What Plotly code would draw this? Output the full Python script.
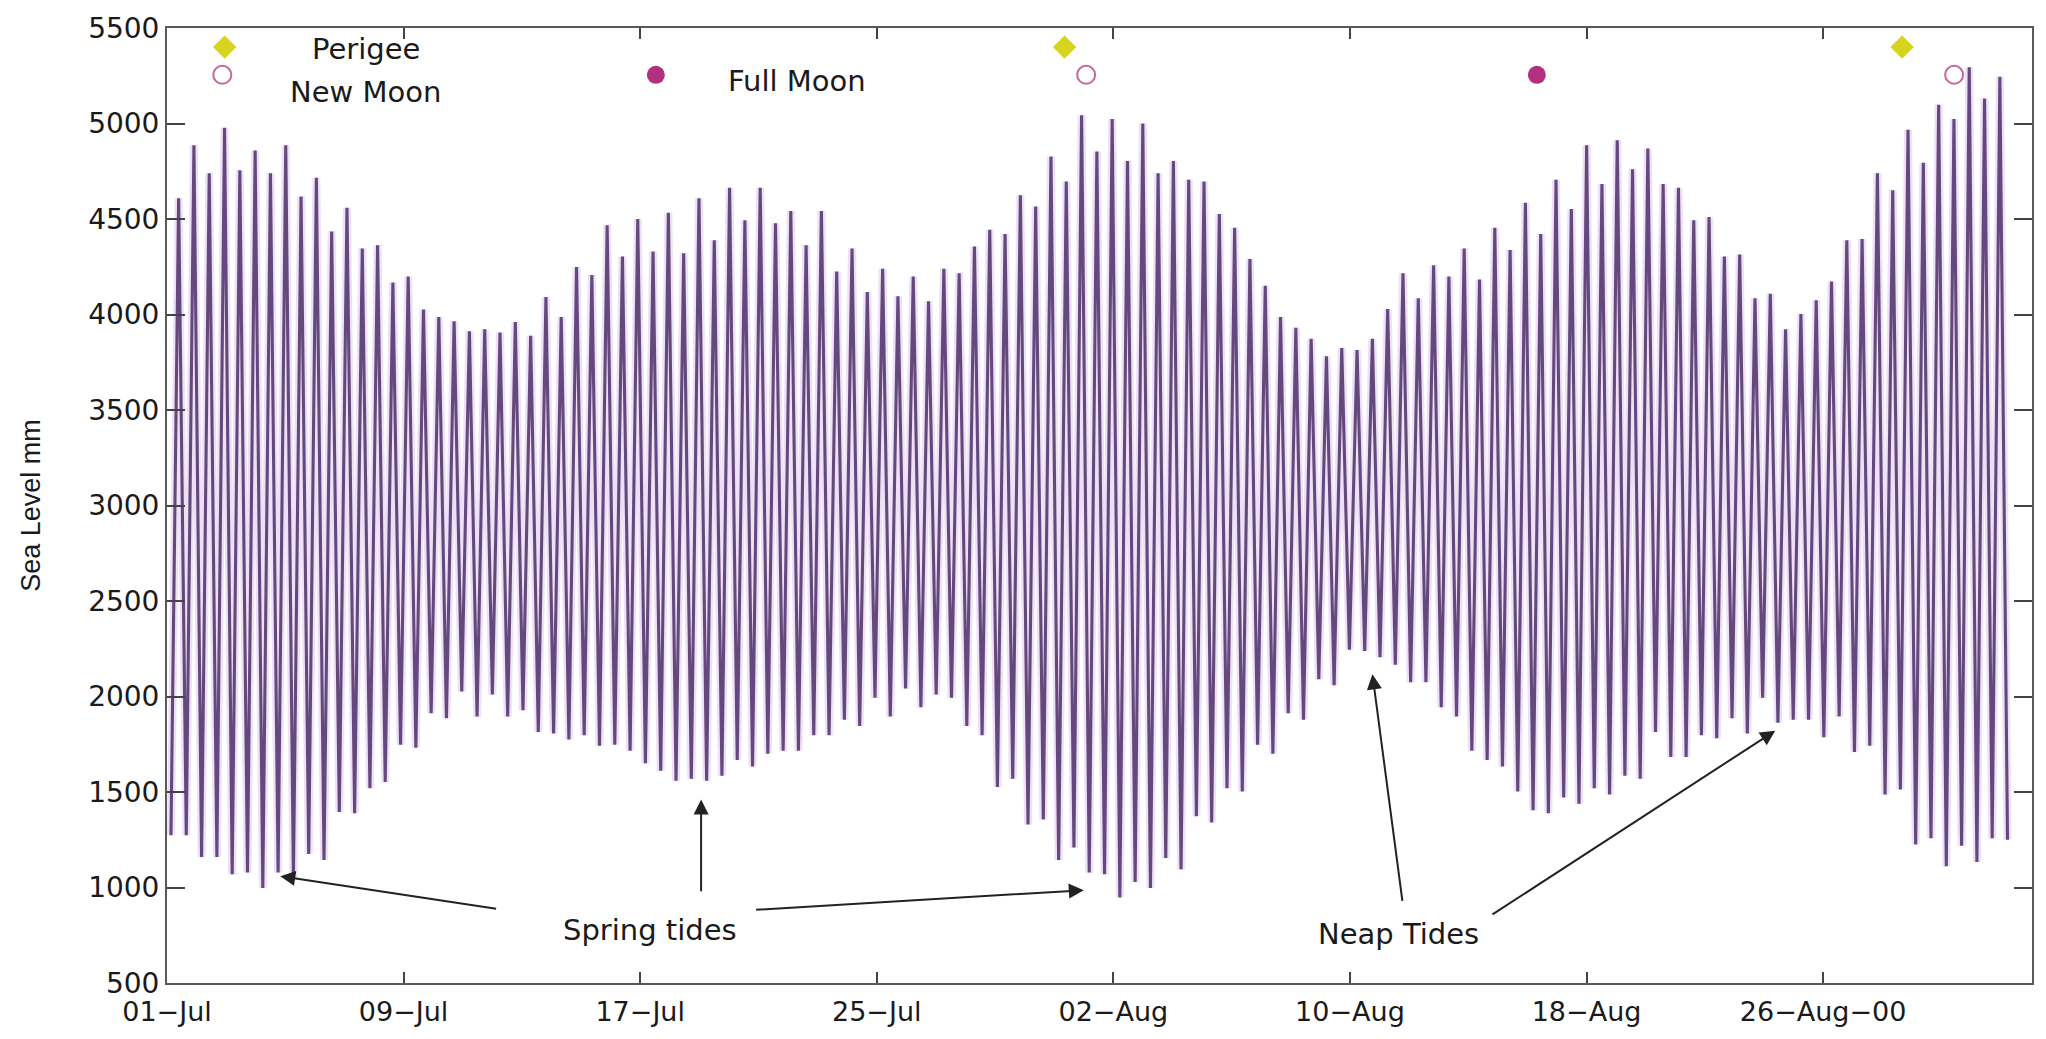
import plotly.graph_objects as go
from datetime import datetime, timedelta

# ---------------- data ----------------
START = datetime(2000, 7, 1)
FIRST_HIGH_DAY = 0.393          # time of first high water (days after 01-Jul)
TIDE_PERIOD_DAYS = 0.5175       # spacing of successive high waters

# successive low waters (each precedes the high water with the same index), mm
low_water = [
    1274, 1274, 1160, 1160, 1069, 1078, 997, 1078, 1050, 1176,
    1144, 1395, 1389, 1520, 1552, 1748, 1732, 1912, 1886, 2026,
    1895, 2010, 1895, 1928, 1814, 1807, 1775, 1797, 1742, 1748,
    1716, 1650, 1611, 1559, 1569, 1559, 1585, 1667, 1634, 1700,
    1716, 1716, 1797, 1797, 1879, 1846, 1993, 1895, 2042, 1944,
    2010, 1993, 1846, 1797, 1526, 1569, 1330, 1356, 1144, 1209,
    1078, 1069, 948, 1029, 997, 1154, 1095, 1373, 1340, 1520,
    1503, 1748, 1700, 1912, 1879, 2091, 2059, 2245, 2239, 2206,
    2167, 2075, 2075, 1944, 1895, 1716, 1667, 1634, 1503, 1405,
    1389, 1471, 1438, 1520, 1487, 1585, 1569, 1814, 1683, 1683,
    1797, 1781, 1886, 1807, 1993, 1863, 1879, 1879, 1787, 1895,
    1709, 1742, 1487, 1513, 1225, 1258, 1111, 1219, 1134, 1258,
]

# successive high waters, mm
high_water = [
    4608, 4886, 4739, 4977, 4755, 4859, 4739, 4886, 4618, 4716,
    4435, 4559, 4346, 4363, 4167, 4199, 4026, 3987, 3964,
    3912, 3922, 3905, 3961, 3889, 4092, 3987, 4248, 4206, 4467,
    4304, 4500, 4330, 4533, 4320, 4608, 4389, 4663, 4493, 4663,
    4477, 4542, 4363, 4542, 4225, 4346, 4118, 4239, 4095, 4199,
    4069, 4239, 4216, 4356, 4444, 4422, 4624, 4565, 4827, 4696,
    5043, 4853, 5023, 4804, 5000, 4739, 4804, 4706, 4696, 4526,
    4454, 4291, 4150, 3987, 3931, 3873, 3781, 3824, 3814, 3873,
    4029, 4216, 4085, 4258, 4199, 4346, 4183, 4454, 4337, 4585,
    4422, 4706, 4552, 4886, 4683, 4912, 4761, 4869, 4683, 4663,
    4493, 4510, 4304, 4314, 4085, 4108, 3922, 4003, 4075, 4173,
    4389, 4395, 4739, 4650, 4967, 4794, 5098, 5023, 5294, 5131,
    5245,
]
final_low = 1250

# astronomical events
perigee_dates = ["2000-07-02 22:48", "2000-07-31 08:24", "2000-08-28 16:05"]
new_moon_dates = ["2000-07-02 20:53", "2000-08-01 01:55", "2000-08-30 10:19"]
full_moon_dates = ["2000-07-17 12:43", "2000-08-16 07:40"]
perigee_level = 5400
moon_level = 5255

tick_dates = ["2000-07-01", "2000-07-09", "2000-07-17", "2000-07-25",
              "2000-08-02", "2000-08-10", "2000-08-18", "2000-08-26"]
tick_text = ["01\u2212Jul", "09\u2212Jul", "17\u2212Jul", "25\u2212Jul",
             "02\u2212Aug", "10\u2212Aug", "18\u2212Aug", "26\u2212Aug\u221200"]
y_ticks = [500, 1000, 1500, 2000, 2500, 3000, 3500, 4000, 4500, 5000, 5500]

# annotation arrows: (head_day, head_level, tail_day, tail_level)
spring_arrows = [(3.83, 1059, 11.18, 888), (18.06, 1461, 18.06, 973), (31.0, 986, 19.87, 883)]
neap_arrows = [(40.76, 2116, 41.78, 922), (54.38, 1821, 44.77, 854)]


def day(d):
    return (START + timedelta(days=d)).strftime("%Y-%m-%d %H:%M:%S")


# ---------------- build series ----------------
xs, ys = [], []
for i, (lo, hi) in enumerate(zip(low_water, high_water)):
    th = FIRST_HIGH_DAY + i * TIDE_PERIOD_DAYS
    xs.append(day(th - TIDE_PERIOD_DAYS / 2)); ys.append(lo)
    xs.append(day(th)); ys.append(hi)
for k in range(len(low_water), len(high_water)):
    th = FIRST_HIGH_DAY + k * TIDE_PERIOD_DAYS
    xs.append(day(th)); ys.append(high_water[k])
xs.append(day(FIRST_HIGH_DAY + (len(high_water) - 0.5) * TIDE_PERIOD_DAYS)); ys.append(final_low)

FONT = "DejaVu Sans"
fig = go.Figure()
fig.add_trace(go.Scatter(x=xs, y=ys, mode="lines", line=dict(color="rgba(205,165,228,0.35)", width=8),
                         hoverinfo="skip", showlegend=False))
fig.add_trace(go.Scatter(x=xs, y=ys, mode="lines", line=dict(color="rgb(100,74,124)", width=3.1),
                         name="Sea level", showlegend=False))
fig.add_trace(go.Scatter(x=perigee_dates, y=[perigee_level] * len(perigee_dates), mode="markers",
                         marker=dict(symbol="diamond", size=18, color="#d6d41e"), name="Perigee", showlegend=False))
fig.add_trace(go.Scatter(x=new_moon_dates, y=[moon_level] * len(new_moon_dates), mode="markers",
                         marker=dict(symbol="circle-open", size=18, color="#c8679a", line=dict(width=2)),
                         name="New Moon", showlegend=False))
fig.add_trace(go.Scatter(x=full_moon_dates, y=[moon_level] * len(full_moon_dates), mode="markers",
                         marker=dict(symbol="circle", size=18, color="#b3307f"), name="Full Moon", showlegend=False))

anns = []
tf = dict(family=FONT, size=29, color="#1a1a1a")
anns.append(dict(x=day(6.74), y=5390, text="Perigee", showarrow=False, font=tf, xanchor="center", yanchor="middle"))
anns.append(dict(x=day(6.72), y=5165, text="New Moon", showarrow=False, font=tf, xanchor="center", yanchor="middle"))
anns.append(dict(x=day(21.31), y=5225, text="Full Moon", showarrow=False, font=tf, xanchor="center", yanchor="middle"))
anns.append(dict(x=day(16.32), y=777, text="Spring tides", showarrow=False, font=tf, xanchor="center", yanchor="middle"))
anns.append(dict(x=day(41.65), y=757, text="Neap Tides", showarrow=False, font=tf, xanchor="center", yanchor="middle"))
for hx, hy, tx, ty in spring_arrows + neap_arrows:
    anns.append(dict(x=day(hx), y=hy, ax=day(tx), ay=ty, axref="x", ayref="y", xref="x", yref="y",
                     text="", showarrow=True, arrowhead=2, arrowsize=1.5, arrowwidth=2, arrowcolor="#222",
                     standoff=0, startstandoff=0))

fig.update_layout(
    width=2046, height=1039,
    margin=dict(l=167, r=14, t=20, b=44),
    paper_bgcolor="white", plot_bgcolor="white",
    font=dict(family=FONT, size=28, color="#1a1a1a"),
    annotations=anns,
)
fig.update_xaxes(range=[day(0), "2000-09-02 01:30:00"], tickvals=tick_dates, ticktext=tick_text,
                 ticks="inside", ticklen=11, tickwidth=1.5, tickcolor="#444",
                 showline=True, linecolor="#5a5a5a", linewidth=2, mirror="ticks",
                 showgrid=False, zeroline=False, tickfont=dict(family=FONT, size=27),
                 ticklabelstandoff=4)
fig.update_yaxes(range=[500, 5500], tickvals=y_ticks, ticks="inside", ticklen=18, tickwidth=1.5, tickcolor="#444",
                 showline=True, linecolor="#5a5a5a", linewidth=2, mirror="ticks",
                 showgrid=False, zeroline=False, tickfont=dict(family=FONT, size=28),
                 title=dict(text="Sea Level mm", font=dict(family="Liberation Sans", size=27), standoff=40))

fig.write_html("out.html")
